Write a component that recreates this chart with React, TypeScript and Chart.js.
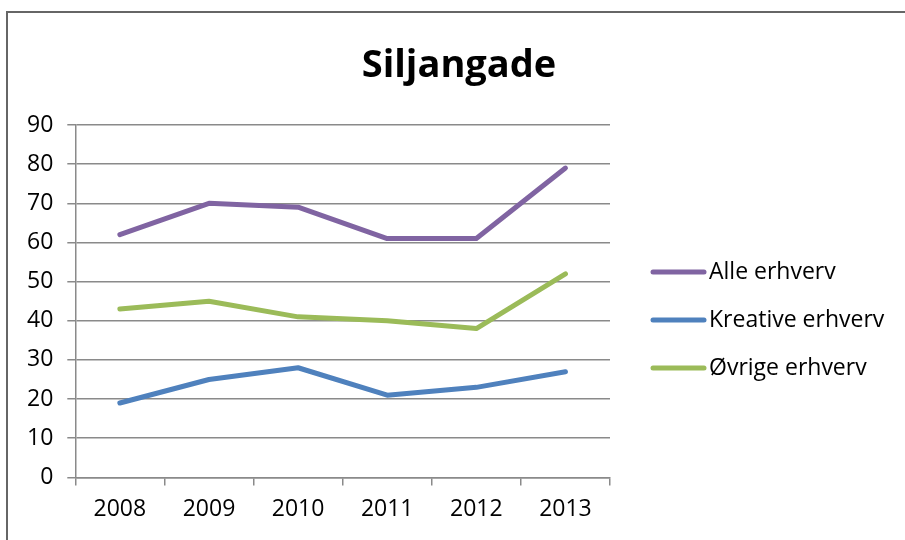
import { useEffect, useRef } from "react";
import { Chart, registerables } from "chart.js";
Chart.register(...registerables);

const TITLE = "Siljangade";
const years = ["2008", "2009", "2010", "2011", "2012", "2013"];
const alleErhverv = [62, 70, 69, 61, 61, 79];
const kreativeErhverv = [19, 25, 28, 21, 23, 27];
const ovrigeErhverv = [43, 45, 41, 40, 38, 52];
const seriesNames = ["Alle erhverv", "Kreative erhverv", "Øvrige erhverv"];
const seriesColors = ["#8064A2", "#4F81BD", "#9BBB59"];
const yMin = 0;
const yMax = 90;
const yStep = 10;

const FONT = "'Open Sans', 'Noto Sans', sans-serif";
const GRID = "#8a8a8a";

const titlePlugin = {
  id: "customTitle",
  afterDraw(chart: any) {
    const ctx = chart.ctx;
    ctx.save();
    ctx.fillStyle = "#000";
    ctx.font = `bold 38px ${FONT}`;
    ctx.textAlign = "center";
    ctx.textBaseline = "alphabetic";
    ctx.fillText(TITLE, 459, 77);
    ctx.restore();
  },
};

const legendPlugin = {
  id: "customLegend",
  afterDraw(chart: any) {
    const ctx = chart.ctx;
    ctx.save();
    chart.data.datasets.forEach((ds: any, i: number) => {
      const y = 272 + i * 48;
      ctx.strokeStyle = ds.borderColor;
      ctx.lineWidth = 5;
      ctx.lineCap = "round";
      ctx.beginPath();
      ctx.moveTo(653, y);
      ctx.lineTo(704, y);
      ctx.stroke();
      ctx.fillStyle = "#000";
      ctx.font = `23px ${FONT}`;
      ctx.textAlign = "left";
      ctx.textBaseline = "middle";
      ctx.fillText(ds.label, 709, y);
    });
    ctx.restore();
  },
};

export default function App() {
  const ref = useRef<HTMLCanvasElement | null>(null);
  useEffect(() => {
    if (!ref.current) return;
    const seriesData = [alleErhverv, kreativeErhverv, ovrigeErhverv];
    const chart = new Chart(ref.current, {
      type: "line",
      data: {
        labels: years,
        datasets: seriesData.map((d, i) => ({
          label: seriesNames[i],
          data: d,
          borderColor: seriesColors[i],
          backgroundColor: seriesColors[i],
          borderWidth: 5,
          borderCapStyle: "round",
          borderJoinStyle: "round",
          pointRadius: 0,
          tension: 0,
          fill: false,
        })),
      },
      options: {
        animation: false,
        responsive: false,
        maintainAspectRatio: false,
        layout: { padding: { left: 13, right: 295, top: 125, bottom: 7 } },
        plugins: {
          legend: { display: false },
          title: { display: false },
          tooltip: { enabled: false },
        },
        scales: {
          x: {
            offset: true,
            grid: {
              offset: true,
              drawOnChartArea: false,
              drawTicks: true,
              tickLength: 8,
              tickColor: GRID,
              lineWidth: 1.5,
            },
            border: { display: true, color: GRID, width: 1.5 },
            ticks: {
              color: "#000",
              font: { family: FONT, size: 23 },
              padding: 10,
              maxRotation: 0,
            },
          },
          y: {
            min: yMin,
            max: yMax,
            ticks: {
              stepSize: yStep,
              color: "#000",
              font: { family: FONT, size: 23 },
              padding: 14,
            },
            grid: {
              color: GRID,
              lineWidth: 1.5,
              drawTicks: true,
              tickLength: 8,
              tickColor: GRID,
            },
            border: { display: true, color: GRID, width: 1.5 },
          },
        },
      },
      plugins: [titlePlugin, legendPlugin],
    } as any);
    return () => chart.destroy();
  }, []);

  return (
    <div style={{ position: "absolute", left: 0, top: 0, width: 905, height: 540, overflow: "hidden", background: "#fff" }}>
      <div
        style={{
          position: "absolute",
          left: 6,
          top: 11,
          width: 1000,
          height: 1000,
          borderLeft: "2px solid #666",
          borderTop: "2px solid #666",
        }}
      />
      <canvas ref={ref} width={905} height={540} style={{ position: "absolute", left: 0, top: 0 }} />
    </div>
  );
}
